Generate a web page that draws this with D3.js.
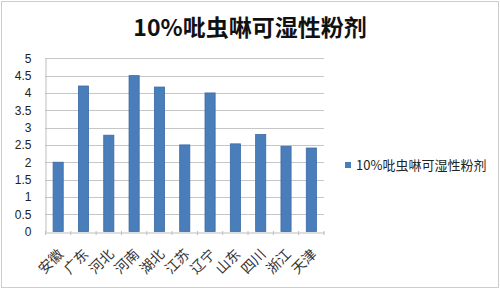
<!DOCTYPE html>
<html><head><meta charset="utf-8">
<script src="https://cdn.jsdelivr.net/npm/d3@7"></script>
<style>body{margin:0;background:#fff}svg{display:block}</style>
</head><body>
<script>
const categories = ["安徽","广东","河北","河南","湖北","江苏","辽宁","山东","四川","浙江","天津"];
const values = [2.0, 4.2, 2.78, 4.5, 4.17, 2.5, 4.0, 2.53, 2.8, 2.46, 2.41];
const yTicks = [0,0.5,1,1.5,2,2.5,3,3.5,4,4.5,5];
const seriesName = "10%吡虫啉可湿性粉剂";
const title = "10%吡虫啉可湿性粉剂";

const W=500,H=289;
const svg=d3.select("body").append("svg").attr("width",W).attr("height",H);
svg.append("rect").attr("x",1.5).attr("y",1.5).attr("width",W-3).attr("height",H-3)
  .attr("fill","#fff").attr("stroke","#9a9a9a").attr("stroke-dasharray","1,1");

const x0=45.5, x1=324;
const x=d3.scaleBand().domain(categories).range([x0,x1]).paddingInner(0.6).paddingOuter(0.3);
const y=d3.scaleLinear().domain([0,5]).range([231.5,58.3]);

svg.append("text").attr("x",250).attr("y",36).attr("text-anchor","middle")
  .attr("font-family","'Noto Sans CJK SC',sans-serif").attr("font-weight","bold").attr("font-size",23)
  .attr("fill","#111").text(title);

// gridlines
svg.append("g").selectAll("line").data(yTicks.filter(d=>d>0)).join("line")
  .attr("x1",x0).attr("x2",x1).attr("y1",d=>Math.round(y(d))+0.5).attr("y2",d=>Math.round(y(d))+0.5)
  .attr("stroke","#8c8c8c").attr("stroke-dasharray","1,1");

// y axis
const ya=svg.append("g").attr("transform",`translate(${x0},0)`)
  .call(d3.axisLeft(y).tickValues(yTicks).tickSize(0).tickPadding(14).tickFormat(d3.format("")));
ya.select(".domain").attr("stroke","#bdbdbd");
ya.selectAll("text").attr("font-family","'Liberation Sans',Arial,sans-serif").attr("font-size",12).attr("fill","#222");

// bars
svg.append("g").selectAll("rect").data(values).join("rect")
  .attr("x",(d,i)=>x(categories[i])).attr("width",x.bandwidth())
  .attr("y",d=>y(d)).attr("height",d=>y(0)-y(d))
  .attr("fill","#4a7ebb").attr("stroke","#3b69a5").attr("stroke-width",0.8);

// x axis
const xa=svg.append("g").attr("transform",`translate(0,${Math.round(y(0))+0.5})`)
  .call(d3.axisBottom(x).tickSize(0).tickFormat(""));
xa.select(".domain").attr("stroke","#bdbdbd");
svg.append("g").selectAll("line").data(d3.range(categories.length+1)).join("line")
  .attr("x1",i=>x0+i*x.step()).attr("x2",i=>x0+i*x.step())
  .attr("y1",231).attr("y2",235).attr("stroke","#bdbdbd");

svg.append("g").selectAll("text").data(categories).join("text")
  .attr("transform",d=>`translate(${x(d)+x.bandwidth()/2+6},${255}) rotate(-45)`)
  .attr("text-anchor","end").attr("font-family","'Noto Sans CJK SC',serif").attr("font-size",14)
  .attr("fill","#333").text(d=>d);

// legend
svg.append("rect").attr("x",345).attr("y",162).attr("width",6).attr("height",6).attr("fill","#4a7ebb");
svg.append("text").attr("x",356).attr("y",169.5).attr("font-family","'Noto Sans CJK SC',sans-serif")
  .attr("font-size",13).attr("fill","#222").text(seriesName);
</script>
</body></html>
